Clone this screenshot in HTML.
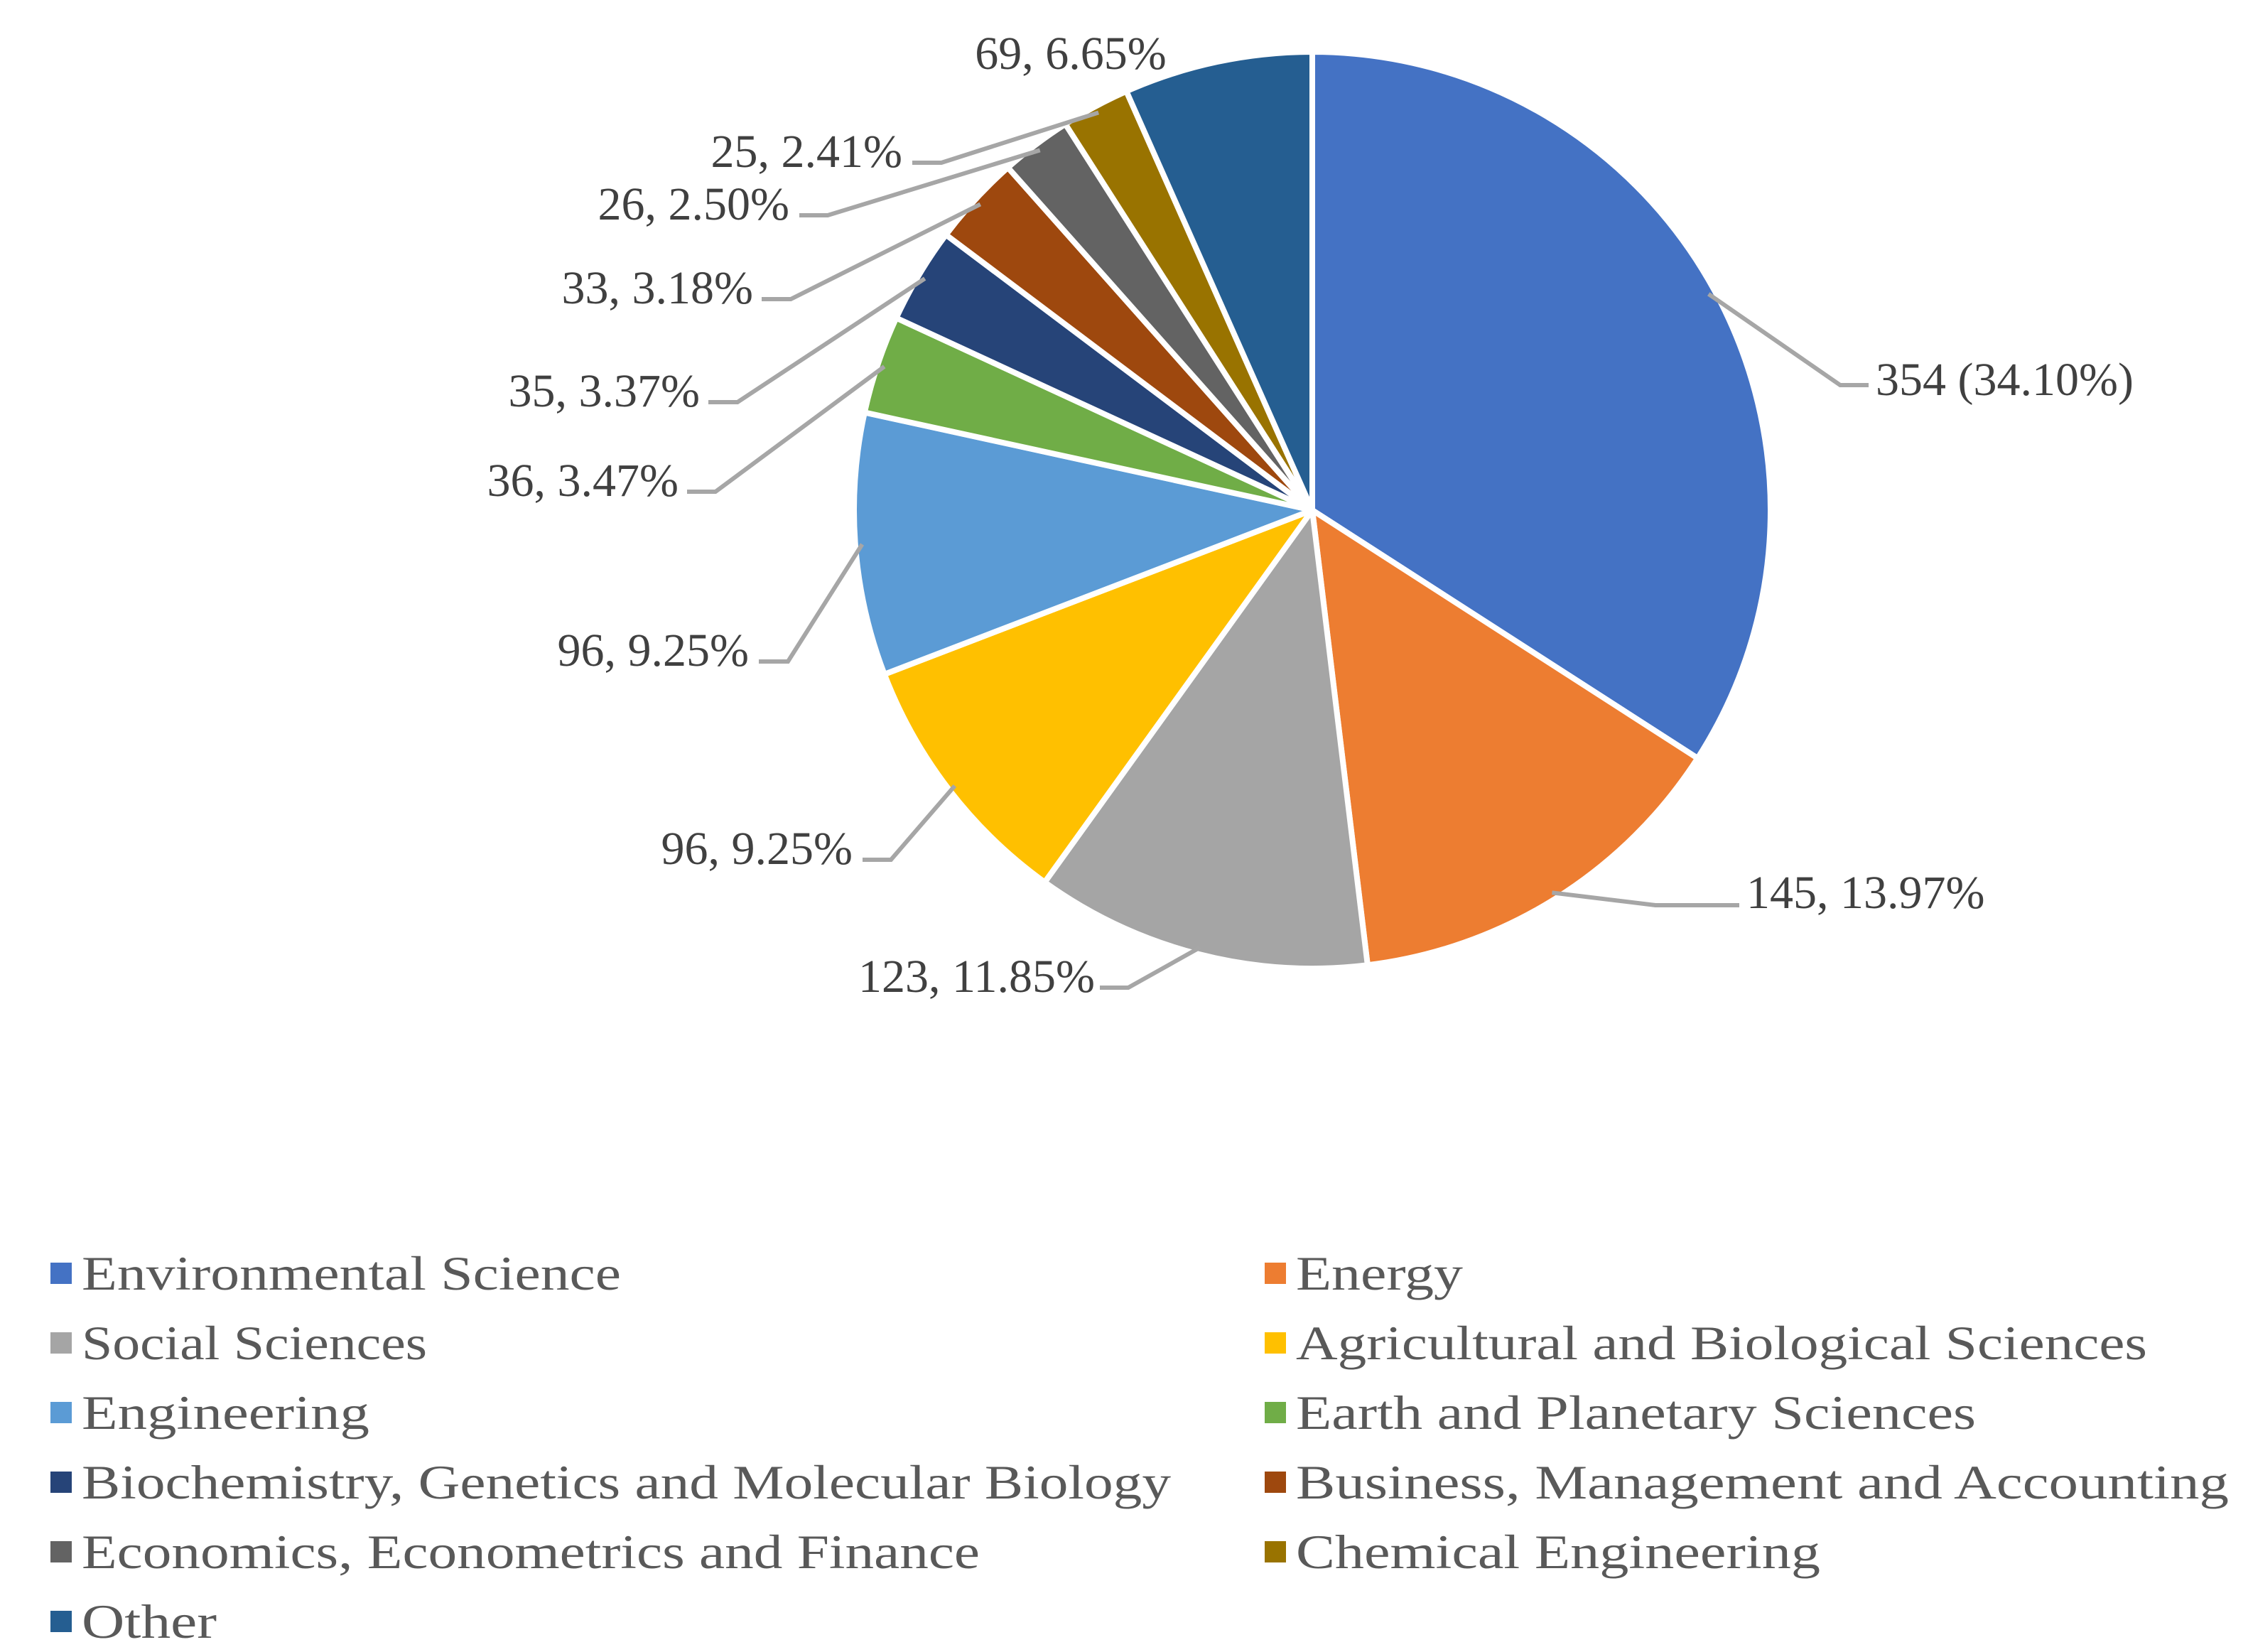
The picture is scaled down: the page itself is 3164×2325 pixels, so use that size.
<!DOCTYPE html>
<html><head><meta charset="utf-8"><style>
html,body{margin:0;padding:0;background:#fff;}
svg{display:block;font-family:"Liberation Serif",serif;}
</style></head><body>
<svg id="chart" width="3164" height="2325" viewBox="0 0 3164 2325" xmlns="http://www.w3.org/2000/svg">
<g id="slices"></g>
<g id="leaders"></g>
<g id="labels"></g>
<g id="legend"></g>
</svg>
<script>
const categories = ["Environmental Science","Energy","Social Sciences","Agricultural and Biological Sciences","Engineering","Earth and Planetary Sciences","Biochemistry, Genetics and Molecular Biology","Business, Management and Accounting","Economics, Econometrics and Finance","Chemical Engineering","Other"];
const values = [354,145,123,96,96,36,35,33,26,25,69];
const labelTexts = ["354 (34.10%)","145, 13.97%","123, 11.85%","96, 9.25%","96, 9.25%","36, 3.47%","35, 3.37%","33, 3.18%","26, 2.50%","25, 2.41%","69, 6.65%"];
const colors = ["#4472C4","#ED7D31","#A5A5A5","#FFC000","#5B9BD5","#70AD47","#264478","#9E480E","#636363","#997300","#255E91"];

const NS="http://www.w3.org/2000/svg";
const cx=1847, cy=718, R=645;
const labelLayout=[
 [2640,556,"start",2590,542,2630],
 [2458,1278,"start",2330,1274,2448],
 [1541,1396,"end",1588,1390,1548],
 [1200,1216,"end",1254,1210,1214],
 [1054,937,"end",1109,931,1068],
 [955,698,"end",1007,692,967],
 [985,572,"end",1038,566,997],
 [1060,427,"end",1113,421,1072],
 [1111,309,"end",1165,303,1125],
 [1270,235,"end",1325,229,1284],
 [1507,97,"middle",null,null,null]
];
const legendW=[759,235,486,1198,405,957,1533,1313,1264,738,190];

const total=values.reduce((a,b)=>a+b,0);
function pt(frac,r){const a=frac*2*Math.PI;return [cx+r*Math.sin(a), cy-r*Math.cos(a)];}
const gS=document.getElementById('slices'),gL=document.getElementById('leaders'),gT=document.getElementById('labels'),gG=document.getElementById('legend');
let cum=0;
values.forEach((v,i)=>{
  const f0=cum/total, f1=(cum+v)/total; cum+=v;
  const p0=pt(f0,R),p1=pt(f1,R);
  const large=(f1-f0)>0.5?1:0;
  const p=document.createElementNS(NS,'path');
  p.setAttribute('d',`M${cx},${cy} L${p0[0]},${p0[1]} A${R},${R} 0 ${large} 1 ${p1[0]},${p1[1]} Z`);
  p.setAttribute('fill',colors[i]);p.setAttribute('stroke','#fff');p.setAttribute('stroke-width','8');p.setAttribute('stroke-linejoin','round');
  
  
  gS.appendChild(p);
  const L=labelLayout[i];
  if(L[3]!==null){
    const m=pt((f0+f1)/2,R*0.985);
    const pl=document.createElementNS(NS,'polyline');
    pl.setAttribute('points',`${m[0]},${m[1]} ${L[3]},${L[4]} ${L[5]},${L[4]}`);
    pl.setAttribute('fill','none');pl.setAttribute('stroke','#A6A6A6');pl.setAttribute('stroke-width','6');
    
    
    gL.appendChild(pl);
  }
  const t=document.createElementNS(NS,'text');
  t.setAttribute('x',L[0]);t.setAttribute('y',L[1]);t.setAttribute('text-anchor',L[2]);
  t.setAttribute('font-size','66');t.setAttribute('fill','#404040');
  t.textContent=labelTexts[i];
  
  
  gT.appendChild(t);
  const col=i%2,row=Math.floor(i/2);
  const sx=col?1780:71, ty=1792+row*98;
  const r=document.createElementNS(NS,'rect');
  r.setAttribute('x',sx);r.setAttribute('y',ty-15);r.setAttribute('width','30');r.setAttribute('height','30');r.setAttribute('fill',colors[i]);
  
  
  gG.appendChild(r);
  const lt=document.createElementNS(NS,'text');
  lt.setAttribute('x',sx+44);lt.setAttribute('y',ty+23);lt.setAttribute('font-size','68');lt.setAttribute('fill','#595959');
  lt.setAttribute('textLength',legendW[i]);lt.setAttribute('lengthAdjust','spacingAndGlyphs');
  lt.textContent=categories[i];
  
  
  gG.appendChild(lt);
});
</script>
</body></html>
